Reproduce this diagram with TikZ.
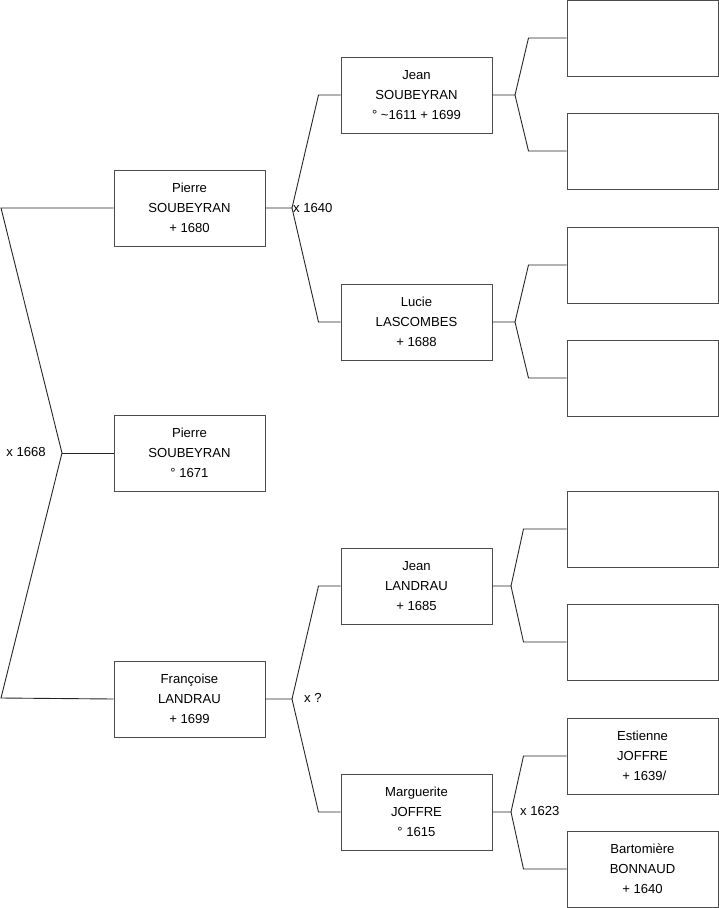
\documentclass[tikz,border=0pt]{standalone}
\usepackage{fontspec}
\setmainfont{Liberation Sans}
\usepackage{tikz}
\usetikzlibrary{positioning, calc}

\begin{document}
\begin{tikzpicture}[x=1pt, y=-1pt, font=\fontsize{13.1}{20}\selectfont,
    pnode/.style={draw=black!70, line width=1pt, rectangle, minimum width=151pt, minimum height=76pt, align=center, inner sep=0pt},
    link/.style={draw=black!85, line width=0.9pt},
    wlabel/.style={inner sep=1pt}]

  \useasboundingbox (0,0) rectangle (719,908);

  % generation 1
  \node[pnode] (ps) at (189.5, 208) {Pierre\\SOUBEYRAN\\+ 1680};
  \node[pnode] (pc) at (189.5, 453) {Pierre\\SOUBEYRAN\\° 1671};
  \node[pnode] (fl) at (189.5, 699) {Françoise\\LANDRAU\\+ 1699};

  % generation 2
  \node[pnode] (js) at (416.5, 95) {Jean\\SOUBEYRAN\\° \textasciitilde 1611 + 1699};
  \node[pnode] (ll) at (416.5, 322) {Lucie\\LASCOMBES\\+ 1688};
  \node[pnode] (jl) at (416.5, 586) {Jean\\LANDRAU\\+ 1685};
  \node[pnode] (mj) at (416.5, 812) {Marguerite\\JOFFRE\\° 1615};

  % generation 3
  \node[pnode] (g1) at (642.5, 38) {};
  \node[pnode] (g2) at (642.5, 151) {};
  \node[pnode] (g3) at (642.5, 265) {};
  \node[pnode] (g4) at (642.5, 378) {};
  \node[pnode] (g5) at (642.5, 529) {};
  \node[pnode] (g6) at (642.5, 642) {};
  \node[pnode] (ej) at (642.5, 756) {Estienne\\JOFFRE\\~+ 1639/};
  \node[pnode] (bb) at (642.5, 869) {Bartomière\\BONNAUD\\+ 1640};

  % marriage points
  \coordinate (m0) at (62, 453);
  \coordinate (m1) at (292, 208);
  \coordinate (m2) at (292, 699);
  \coordinate (m3) at (515, 95);
  \coordinate (m4) at (515, 322);
  \coordinate (m5) at (511, 586);
  \coordinate (m6) at (511, 812);

  \node[wlabel, anchor=east] (w0) at (47, 452) {x 1668};
  \node[wlabel, anchor=west] (w1) at (292, 208) {x 1640};
  \node[wlabel, anchor=west] (w2) at (303, 698) {x ?};
  \node[wlabel, anchor=west] (w6) at (519, 811) {x 1623};

  \draw[link] (pc.west) -- (m0);
  \draw[link] (m0) -- (1, 208) -- (ps.west);
  \draw[link] (m0) -- (1, 698) -- (fl.west);

  \draw[link] (ps.east) -- (m1) -- ([xshift=-22]js.west) -- (js.west);
  \draw[link] (m1) -- ([xshift=-22]ll.west) -- (ll.west);
  \draw[link] (fl.east) -- (m2) -- ([xshift=-22]jl.west) -- (jl.west);
  \draw[link] (m2) -- ([xshift=-22]mj.west) -- (mj.west);

  \draw[link] (js.east) -- (m3) -- ([xshift=-38]g1.west) -- (g1.west);
  \draw[link] (m3) -- ([xshift=-38]g2.west) -- (g2.west);
  \draw[link] (ll.east) -- (m4) -- ([xshift=-38]g3.west) -- (g3.west);
  \draw[link] (m4) -- ([xshift=-38]g4.west) -- (g4.west);
  \draw[link] (jl.east) -- (m5) -- ([xshift=-43]g5.west) -- (g5.west);
  \draw[link] (m5) -- ([xshift=-43]g6.west) -- (g6.west);
  \draw[link] (mj.east) -- (m6) -- ([xshift=-43]ej.west) -- (ej.west);
  \draw[link] (m6) -- ([xshift=-43]bb.west) -- (bb.west);
\end{tikzpicture}
\end{document}
